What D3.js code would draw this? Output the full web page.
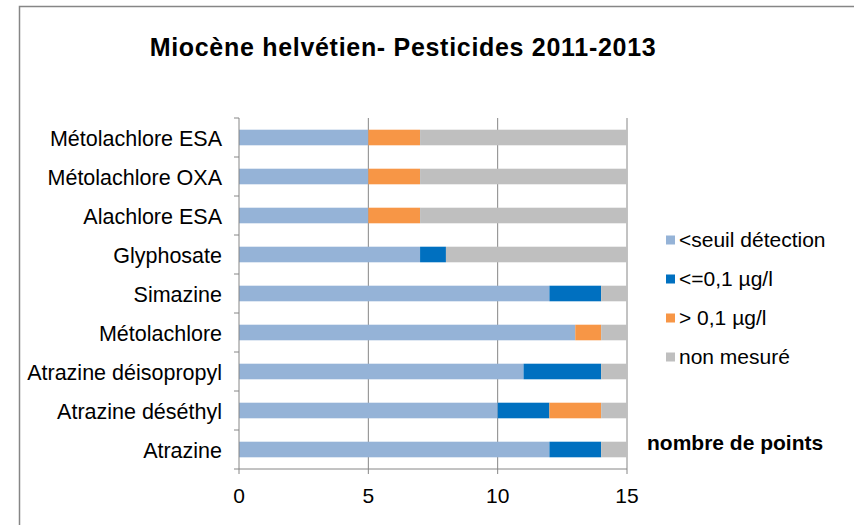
<html>
<head>
  <meta charset="utf-8">
  <script src="https://d3js.org/d3.v7.min.js"></script>
  <style>
    body { margin: 0; background: #fff; }
    text { font-family: "Liberation Sans", Arial, sans-serif; fill: #000; }
  </style>
</head>
<body>
<svg width="854" height="525"></svg>
<script>
  // data
  let categories = ["Métolachlore ESA", "Métolachlore OXA", "Alachlore ESA", "Glyphosate",
    "Simazine", "Métolachlore", "Atrazine déisopropyl", "Atrazine déséthyl", "Atrazine"];
  let seriesNames = ["<seuil détection", "<=0,1 µg/l", "> 0,1 µg/l", "non mesuré"];
  let seuil     = [5, 5, 5, 7, 12, 13, 11, 10, 12];
  let inf01     = [0, 0, 0, 1, 2, 0, 3, 2, 2];
  let sup01     = [2, 2, 2, 0, 0, 1, 0, 2, 0];
  let nonMesure = [8, 8, 8, 7, 1, 1, 1, 1, 1];
  let xTicks = [0, 5, 10, 15];

  let colors = ["#95B3D7", "#0070C0", "#F79646", "#BFBFBF"];

  let svg = d3.select("svg");

  // outer chart border
  svg.append("rect")
    .attr("x", 19.5).attr("y", 6.5)
    .attr("width", 900).attr("height", 600)
    .attr("fill", "none").attr("stroke", "#868686").attr("stroke-width", 1.5);

  svg.append("text")
    .attr("x", 403).attr("y", 56)
    .attr("text-anchor", "middle")
    .style("font-size", "25px").style("font-weight", "bold")
    .style("letter-spacing", "0.7px")
    .text("Miocène helvétien- Pesticides 2011-2013");

  let pLeft = 239, pRight = 627, pTop = 118, pBottom = 469;

  let x = d3.scaleLinear().domain([0, 15]).range([pLeft, pRight]);
  let y = d3.scaleBand().domain(categories).range([pTop, pBottom]).paddingInner(0.6).paddingOuter(0.3);

  let table = categories.map((c, i) => ({
    cat: c, s0: seuil[i], s1: inf01[i], s2: sup01[i], s3: nonMesure[i]
  }));
  let stack = d3.stack().keys(["s0", "s1", "s2", "s3"])(table);

  let g = svg.append("g");

  // vertical gridlines
  g.selectAll("line.grid")
    .data(xTicks.slice(1))
    .enter().append("line")
    .attr("x1", d => x(d)).attr("x2", d => x(d))
    .attr("y1", pTop).attr("y2", pBottom)
    .attr("stroke", "#868686").attr("stroke-width", 1);

  // bars
  g.selectAll("g.series")
    .data(stack)
    .enter().append("g")
    .attr("fill", (d, i) => colors[i])
    .selectAll("rect")
    .data(d => d)
    .enter().append("rect")
    .attr("x", d => x(d[0]))
    .attr("width", d => x(d[1]) - x(d[0]))
    .attr("y", d => y(d.data.cat))
    .attr("height", y.bandwidth());

  // y axis line + outer ticks
  let band = (pBottom - pTop) / categories.length;
  let yTickPos = d3.range(categories.length + 1).map(i => pTop + i * band);
  g.append("line")
    .attr("x1", pLeft).attr("x2", pLeft).attr("y1", pTop).attr("y2", pBottom)
    .attr("stroke", "#868686").attr("stroke-width", 1);
  g.selectAll("line.ytick")
    .data(yTickPos)
    .enter().append("line")
    .attr("x1", pLeft - 5).attr("x2", pLeft)
    .attr("y1", d => d).attr("y2", d => d)
    .attr("stroke", "#868686");

  // x axis
  g.append("line")
    .attr("x1", pLeft).attr("x2", pRight).attr("y1", pBottom).attr("y2", pBottom)
    .attr("stroke", "#868686");
  g.selectAll("line.xtick")
    .data(xTicks)
    .enter().append("line")
    .attr("x1", d => x(d)).attr("x2", d => x(d))
    .attr("y1", pBottom).attr("y2", pBottom + 5)
    .attr("stroke", "#868686");
  g.selectAll("text.xlab")
    .data(xTicks)
    .enter().append("text")
    .attr("x", d => x(d)).attr("y", 503)
    .attr("text-anchor", "middle")
    .style("font-size", "21px")
    .text(d => d);

  // category labels
  g.selectAll("text.ylab")
    .data(categories)
    .enter().append("text")
    .attr("x", 222)
    .attr("y", d => y(d) + y.bandwidth() / 2 + 8)
    .attr("text-anchor", "end")
    .style("font-size", "21.5px")
    .text(d => d);

  // legend
  let legend = svg.append("g");
  seriesNames.forEach((name, i) => {
    let ly = 240 + i * 39;
    legend.append("rect")
      .attr("x", 666).attr("y", ly - 4.5)
      .attr("width", 9).attr("height", 9)
      .attr("fill", colors[i]);
    legend.append("text")
      .attr("x", 679).attr("y", ly + 7)
      .style("font-size", "21px")
      .text(name);
  });

  svg.append("text")
    .attr("x", 647).attr("y", 450)
    .style("font-size", "21px").style("font-weight", "bold")
    .text("nombre de points");
</script>
</body>
</html>
